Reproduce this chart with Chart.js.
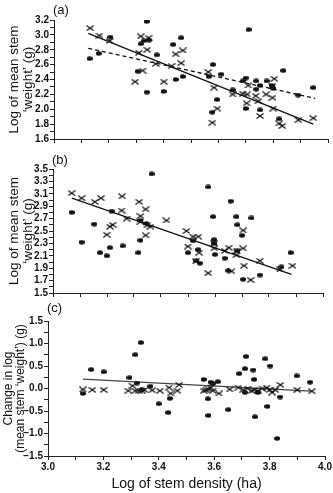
<!DOCTYPE html>
<html>
<head>
<meta charset="utf-8">
<script src="https://cdn.jsdelivr.net/npm/chart.js@4.4.1/dist/chart.umd.min.js"></script>
<style>
  html, body { margin: 0; padding: 0; background: #fff; }
  body { width: 333px; height: 493px; position: relative; overflow: hidden; }
  .panel { position: absolute; left: 0; width: 333px; }
  canvas { display: block; }
</style>
</head>
<body>
<div class="panel" style="top:0px;height:148px"><canvas id="chartA" width="333" height="148"></canvas></div>
<div class="panel" style="top:148px;height:152px"><canvas id="chartB" width="333" height="152"></canvas></div>
<div class="panel" style="top:300px;height:193px"><canvas id="chartC" width="333" height="193"></canvas></div>
<script>
// Panel (a) - log of mean stem weight
const aDotX = [3.13, 3.163, 3.206, 3.317, 3.327, 3.338, 3.347, 3.305, 3.339, 3.375, 3.40, 3.435, 3.444, 3.464, 3.47, 3.58, 3.565, 3.578, 3.595, 3.61, 3.652, 3.689, 3.70, 3.71, 3.70, 3.738, 3.752, 3.752, 3.776, 3.794, 3.80, 3.837, 3.822, 3.891, 3.946, 3.738];
const aDotY = [2.68, 2.75, 2.97, 2.88, 2.92, 3.18, 2.93, 2.51, 2.23, 2.73, 2.24, 2.87, 2.40, 2.96, 2.44, 2.60, 2.44, 1.96, 2.13, 2.47, 2.26, 2.38, 2.42, 3.07, 2.01, 2.38, 2.32, 1.99, 2.38, 2.32, 2.28, 2.52, 1.87, 2.19, 2.29, 2.27];
const aCrossX = [3.132, 3.166, 3.203, 3.296, 3.31, 3.323, 3.317, 3.34, 3.345, 3.371, 3.401, 3.429, 3.444, 3.464, 3.47, 3.563, 3.584, 3.578, 3.596, 3.652, 3.689, 3.705, 3.703, 3.709, 3.736, 3.746, 3.752, 3.774, 3.797, 3.797, 3.804, 3.80, 3.822, 3.833, 3.892, 3.946];
const aCrossY = [3.09, 2.99, 2.92, 2.37, 2.76, 2.52, 2.98, 2.80, 2.96, 2.61, 2.37, 2.58, 2.74, 2.62, 2.79, 2.50, 2.29, 1.82, 2.01, 2.20, 2.21, 2.20, 2.08, 2.32, 2.18, 2.11, 1.91, 2.20, 2.155, 2.31, 2.41, 2.01, 1.81, 1.775, 1.855, 1.88];
const aSolidX = [3.125, 3.946];
const aSolidY = [3.02, 1.80];
const aDashX = [3.125, 3.953];
const aDashY = [2.82, 2.147];

// Panel (b)
const bDotX = [3.069, 3.106, 3.153, 3.174, 3.199, 3.211, 3.217, 3.258, 3.316, 3.324, 3.324, 3.346, 3.365, 3.50, 3.519, 3.531, 3.538, 3.544, 3.575, 3.593, 3.597, 3.60, 3.597, 3.636, 3.649, 3.658, 3.679, 3.683, 3.682, 3.70, 3.704, 3.735, 3.766, 3.846, 3.88];
const bDotY = [2.80, 2.32, 2.61, 2.15, 2.10, 2.23, 2.82, 2.26, 2.15, 2.35, 2.67, 2.62, 3.42, 2.15, 2.34, 2.02, 2.20, 1.98, 3.21, 2.73, 2.36, 2.12, 2.30, 2.06, 1.86, 2.98, 2.73, 2.60, 2.18, 2.43, 1.72, 2.71, 1.79, 1.92, 2.15];
const bCrossX = [3.069, 3.106, 3.155, 3.178, 3.199, 3.211, 3.221, 3.254, 3.256, 3.273, 3.319, 3.324, 3.324, 3.343, 3.343, 3.349, 3.361, 3.42, 3.494, 3.50, 3.519, 3.538, 3.529, 3.541, 3.575, 3.597, 3.597, 3.636, 3.651, 3.661, 3.679, 3.682, 3.704, 3.704, 3.707, 3.732, 3.766, 3.84, 3.887];
const bCrossY = [3.11, 3.03, 2.97, 3.03, 2.44, 2.57, 2.60, 2.83, 3.06, 2.70, 2.97, 2.74, 2.65, 2.85, 2.43, 2.59, 2.57, 2.67, 2.50, 2.25, 2.41, 2.41, 2.01, 2.15, 1.82, 2.22, 2.30, 2.18, 2.23, 1.85, 2.11, 2.17, 2.51, 2.22, 1.94, 1.71, 2.02, 1.88, 1.94];
const bLineX = [3.07, 3.883];
const bLineY = [3.03, 1.80];

// Panel (c) - change in log weight
const cDotX = [3.126, 3.156, 3.201, 3.294, 3.315, 3.321, 3.335, 3.339, 3.37, 3.40, 3.434, 3.44, 3.562, 3.577, 3.579, 3.587, 3.595, 3.613, 3.651, 3.69, 3.711, 3.715, 3.711, 3.741, 3.744, 3.747, 3.757, 3.784, 3.802, 3.792, 3.827, 3.838, 3.898, 3.946];
const cDotY = [-0.11, 0.42, 0.37, 0.24, 0.75, 0.12, 1.02, -0.03, 0.05, -0.34, -0.535, -0.22, 0.20, -0.23, -0.60, 0.14, 0.11, 0.15, -0.47, 0.33, 0.44, 0.71, -0.09, 0.41, 0.20, -0.63, -0.09, 0.66, 0.50, -0.40, -1.11, -0.19, 0.28, 0.14];
const cCrossX = [3.126, 3.16, 3.201, 3.29, 3.305, 3.315, 3.327, 3.339, 3.348, 3.376, 3.404, 3.437, 3.443, 3.467, 3.473, 3.562, 3.571, 3.579, 3.587, 3.595, 3.617, 3.656, 3.687, 3.705, 3.721, 3.735, 3.745, 3.757, 3.774, 3.79, 3.80, 3.809, 3.82, 3.839, 3.90, 3.952];
const cCrossY = [-0.02, -0.03, -0.03, -0.05, 0.06, -0.05, -0.05, -0.05, -0.03, -0.04, -0.05, 0.02, -0.11, -0.05, 0.08, -0.05, -0.04, -0.02, 0.02, -0.05, -0.11, -0.02, 0.02, -0.03, 0.00, -0.05, -0.03, -0.05, 0.00, 0.02, -0.03, -0.09, -0.03, 0.08, -0.03, -0.06];
const cLineX = [3.126, 3.95];
const cLineY = [0.21, -0.06];

const FONT = '"Liberation Sans", Arial, Helvetica, sans-serif';
const INK = '#111';

// Small marker images: filled oval and flattened cross
function makeDot() {
  const c = document.createElement('canvas');
  c.width = 6; c.height = 5;
  const g = c.getContext('2d');
  g.fillStyle = INK;
  g.beginPath();
  g.ellipse(3, 2.5, 3, 2.2, 0, 0, Math.PI * 2);
  g.fill();
  return c;
}

function makeCross() {
  const c = document.createElement('canvas');
  c.width = 8; c.height = 6;
  const g = c.getContext('2d');
  g.strokeStyle = INK;
  g.lineWidth = 1.2;
  g.beginPath();
  g.moveTo(0.5, 0.5); g.lineTo(7.5, 5.5);
  g.moveTo(0.5, 5.5); g.lineTo(7.5, 0.5);
  g.stroke();
  return c;
}

const dotImg = makeDot();
const crossImg = makeCross();

function zip(xs, ys) {
  return xs.map((x, i) => ({ x: x, y: ys[i] }));
}

function fmt(v) {
  const s = Math.abs(v) < 1e-9 ? '0.0' : v.toFixed(1);
  return s.replace('-', '\u2212');
}

// Draws the (a)/(b)/(c) tag above the plot
const panelTag = {
  id: 'panelTag',
  afterDraw(chart, args, opts) {
    const ctx = chart.ctx;
    ctx.save();
    ctx.fillStyle = INK;
    ctx.font = '13px ' + FONT;
    ctx.textBaseline = 'middle';
    ctx.textAlign = 'left';
    ctx.fillText(opts.text, opts.x, opts.y);
    ctx.restore();
  }
};

function makePanel(id, cfg) {
  const datasets = [
    {
      label: 'dots',
      data: zip(cfg.dotX, cfg.dotY),
      pointStyle: dotImg,
      showLine: false
    },
    {
      label: 'crosses',
      data: zip(cfg.crossX, cfg.crossY),
      pointStyle: crossImg,
      showLine: false
    }
  ];
  cfg.lines.forEach(l => {
    datasets.push({
      label: 'fit',
      data: zip(l.x, l.y),
      showLine: true,
      pointRadius: 0,
      borderColor: l.color || INK,
      borderWidth: 1.3,
      borderDash: l.dash || []
    });
  });

  return new Chart(document.getElementById(id), {
    type: 'scatter',
    data: { datasets: datasets },
    plugins: [panelTag],
    options: {
      responsive: false,
      animation: false,
      devicePixelRatio: 1,
      layout: { padding: { top: cfg.top, right: cfg.right, left: 0, bottom: 0 } },
      plugins: {
        legend: { display: false },
        tooltip: { enabled: false },
        panelTag: { text: cfg.tag, x: cfg.tagX, y: cfg.tagY }
      },
      scales: {
        x: {
          type: 'linear',
          min: 3.0,
          max: 4.0,
          border: { color: '#222', width: 1 },
          grid: { drawOnChartArea: false, drawTicks: true, tickLength: 4, color: '#222' },
          ticks: {
            stepSize: 0.1,
            autoSkip: false,
            maxRotation: 0,
            padding: 1,
            color: INK,
            font: { family: FONT, size: 10, weight: 'bold' },
            callback: v => (cfg.xLabels && Math.round(v * 10) % 2 === 0) ? fmt(v) : ''
          },
          title: {
            display: !!cfg.xTitle,
            text: cfg.xTitle || '',
            color: INK,
            font: { family: FONT, size: 14 },
            padding: { top: 0, bottom: 0 }
          },
          afterFit: s => { s.height = cfg.xHeight; }
        },
        y: {
          type: 'linear',
          min: cfg.yMin,
          max: cfg.yMax,
          border: { color: '#222', width: 1 },
          grid: { drawOnChartArea: false, drawTicks: true, tickLength: 4, color: '#222' },
          ticks: {
            stepSize: cfg.yStep,
            autoSkip: false,
            padding: 1,
            color: INK,
            font: { family: FONT, size: 10, weight: 'bold' },
            // label every second tick, counted from the bottom of the axis
            callback: v => Math.round((v - cfg.yMin) / cfg.yStep) % 2 === 0 ? fmt(v) : ''
          },
          title: {
            display: true,
            text: cfg.yTitle,
            color: INK,
            font: { family: FONT, size: cfg.yTitleSize, lineHeight: cfg.yTitleLH },
            padding: { top: cfg.yTitlePad, bottom: 0 }
          },
          afterFit: s => { s.width = cfg.yWidth; }
        }
      }
    }
  });
}

makePanel('chartA', {
  dotX: aDotX, dotY: aDotY, crossX: aCrossX, crossY: aCrossY,
  lines: [
    { x: aSolidX, y: aSolidY },
    { x: aDashX, y: aDashY, dash: [4, 3] }
  ],
  top: 20, right: 5, xHeight: 9, yWidth: 54,
  yMin: 1.6, yMax: 3.2, yStep: 0.1,
  yTitle: ['Log of mean stem', '\u2018weight\u2019 (g)'], yTitleSize: 13.5, yTitleLH: 1.05, yTitlePad: 7,
  xLabels: false,
  tag: '(a)', tagX: 53, tagY: 10
});

makePanel('chartB', {
  dotX: bDotX, dotY: bDotY, crossX: bCrossX, crossY: bCrossY,
  lines: [{ x: bLineX, y: bLineY }],
  top: 21, right: 10, xHeight: 5, yWidth: 53,
  yMin: 1.5, yMax: 3.5, yStep: 0.1,
  yTitle: ['Log of mean stem', '\u2018weight\u2019 (g)'], yTitleSize: 13.5, yTitleLH: 1.05, yTitlePad: 7,
  xLabels: false,
  tag: '(b)', tagX: 52, tagY: 12
});

makePanel('chartC', {
  dotX: cDotX, dotY: cDotY, crossX: cCrossX, crossY: cCrossY,
  lines: [{ x: cLineX, y: cLineY, color: '#444' }],
  top: 21, right: 8, xHeight: 37, yWidth: 48,
  yMin: -1.5, yMax: 1.5, yStep: 0.25,
  yTitle: ['Change in log', '(mean stem \u2018weight\u2019) (g)'], yTitleSize: 12, yTitleLH: 1.0, yTitlePad: 3,
  xLabels: true, xTitle: 'Log of stem density (ha)',
  tag: '(c)', tagX: 47, tagY: 8
});
</script>
</body>
</html>
